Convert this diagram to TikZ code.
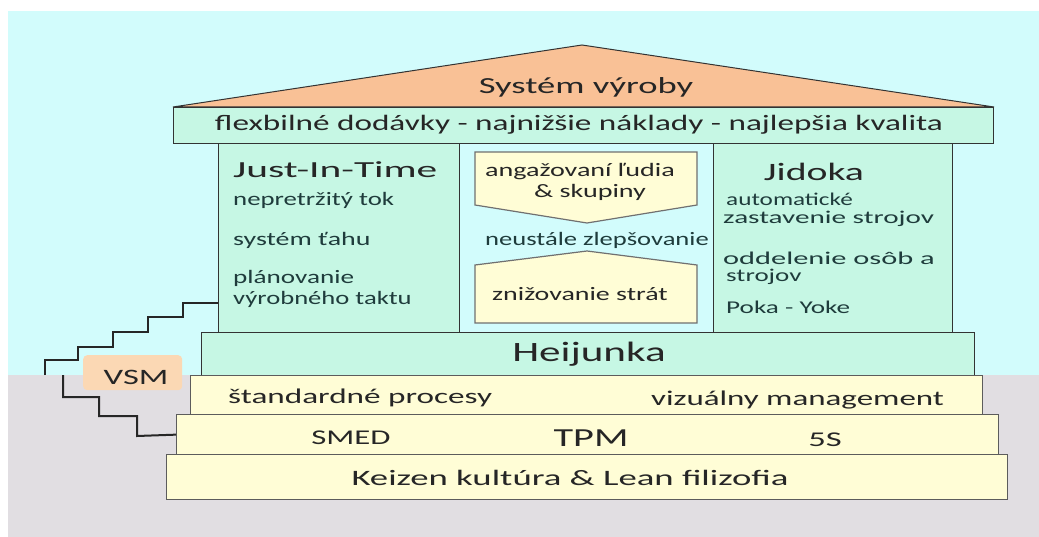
\documentclass[tikz,border=0pt]{standalone}
\usepackage{graphicx}
\usepackage{fontspec}
\setmainfont{Carlito}
\definecolor{sky}{HTML}{D2FCFC}
\definecolor{ground}{HTML}{E1DEE2}
\definecolor{roof}{HTML}{F9C196}
\definecolor{mint}{HTML}{C6F7E4}
\definecolor{cream}{HTML}{FFFDD6}
\definecolor{vsmfill}{HTML}{FBD8B4}
\definecolor{ink}{HTML}{262626}
\definecolor{teal}{HTML}{1F3C3C}
\definecolor{edge}{HTML}{333333}
% horizontally widened lettering
\newcommand\wide[2]{\scalebox{#1}[1]{#2}}
\newcommand\fs[1]{\fontsize{#1}{#1}\selectfont}
\tikzset{
  box/.style={draw=edge, line width=1.3pt, inner sep=0pt, anchor=north west},
  greenbox/.style={box, fill=mint},
  yellowbox/.style={box, fill=cream, draw=edge!80},
  arrowbox/.style={fill=cream, draw=edge!70, line width=1.2pt, line join=miter},
  lbl/.style={text=ink, inner sep=0pt},
  item/.style={text=teal, inner sep=0pt, anchor=west, font=\fs{19}},
  smallitem/.style={item, font=\fs{18}},
  stair/.style={draw=black!85, line width=2pt}
}
\begin{document}
\begin{tikzpicture}[x=1pt, y=-1pt]
\useasboundingbox (0,0) rectangle (1039,537);
% background: sky and ground
\fill[white] (0,0) rectangle (1039,537);
\fill[sky] (8,11) rectangle (1039,375);
\fill[ground] (8,375) rectangle (1039,537);

% roof
\draw[fill=roof, draw=edge, line width=1pt, line join=miter] (173,107) -- (582,45) -- (994,107) -- cycle;
\node[lbl, font=\fs{23}] (roofl) at (586,87) {\wide{1.59}{Systém výroby}};

% beam
\node[greenbox, minimum width=820, minimum height=36] (beam) at (173,107) {};
\node[lbl, font=\fs{22}] (beaml) at (579,125) {\wide{1.51}{flexbilné dodávky - najnižšie náklady - najlepšia kvalita}};

% pillars
\node[greenbox, minimum width=241, minimum height=189] (jit) at (218,143) {};
\node[greenbox, minimum width=239, minimum height=189] (jid) at (713,143) {};

\node[lbl, anchor=west, font=\fs{23}] (jitt) at (233,170) {\wide{1.8}{Just-In-Time}};
\node[item] (jit1) at (233,200) {\wide{1.41}{nepretržitý tok}};
\node[item] (jit2) at (233,240) {\wide{1.47}{systém ťahu}};
\node[item] (jit3) at (233,278) {\wide{1.43}{plánovanie}};
\node[item] (jit4) at (233,299) {\wide{1.40}{výrobného taktu}};

\node[lbl, font=\fs{25}] (jidt) at (814,172) {\wide{1.59}{Jidoka}};
\node[smallitem] (jid1) at (726,199) {\wide{1.40}{automatické}};
\node[smallitem] (jid2) at (723,219) {\wide{1.62}{zastavenie strojov}};
\node[smallitem] (jid3) at (723,258) {\wide{1.69}{oddelenie osôb a}};
\node[smallitem] (jid4) at (726,277) {\wide{1.50}{strojov}};
\node[smallitem] (jid5) at (726,307) {\wide{1.51}{Poka - Yoke}};

% continuous improvement arrows
\draw[arrowbox] (475,152) -- (697,152) -- (697,205) -- (587,223) -- (475,205) -- cycle;
\node[lbl, font=\fs{19}] (people) at (580,172) {\wide{1.48}{angažovaní ľudia}};
\node[lbl, font=\fs{19}] (groups) at (590,192) {\wide{1.48}{\& skupiny}};
\node[lbl, text=teal, font=\fs{19}] (kaizen) at (597,240) {\wide{1.40}{neustále zlepšovanie}};
\draw[arrowbox] (475,265) -- (587,251) -- (697,265) -- (697,323) -- (475,323) -- cycle;
\node[lbl, font=\fs{19}] (waste) at (580,294) {\wide{1.47}{znižovanie strát}};

% foundation layers
\node[greenbox, minimum width=773, minimum height=43] (heij) at (201,332) {};
\node[lbl, font=\fs{28}] (heijl) at (589,354) {\wide{1.54}{Heijunka}};

\node[yellowbox, minimum width=792, minimum height=39] (std) at (190,375) {};
\node[lbl, anchor=west, font=\fs{21}] (stdl) at (228,398) {\wide{1.58}{štandardné procesy}};
\node[lbl, anchor=west, font=\fs{21}] (vizl) at (651,400) {\wide{1.57}{vizuálny management}};

\node[yellowbox, minimum width=822, minimum height=40] (tpm) at (176,414) {};
\node[lbl, font=\fs{21}] (smed) at (351,438) {\wide{1.56}{SMED}};
\node[lbl, font=\fs{26}] (tpml) at (591,438) {\wide{1.55}{TPM}};
\node[lbl, font=\fs{21}] (fives) at (825,440) {\wide{1.65}{5S}};

\node[yellowbox, minimum width=841, minimum height=45] (base) at (166,454) {};
\node[lbl, font=\fs{22}] (basel) at (570,478) {\wide{1.67}{Keizen kultúra \& Lean filizofia}};

% value stream mapping steps
\node[fill=vsmfill, rounded corners=4pt, minimum width=99, minimum height=35, inner sep=0pt, anchor=north west] (vsm) at (83,355) {};
\node[lbl, font=\fs{22}] (vsml) at (136,377) {\wide{1.57}{VSM}};
\coordinate (upend) at (jit.west |- 0,303);
\coordinate (lowend) at (tpm.west);
\draw[stair] (45,375) -- (45,360) -- (78,360) -- (78,347) -- (113,347) -- (113,332) -- (148,332) -- (148,317) -- (183,317) -- (183,303) -- (upend);
\draw[stair] (63,375) -- (63,397) -- (99,397) -- (99,416) -- (137,416) -- (137,436) -- (lowend);
\end{tikzpicture}
\end{document}
